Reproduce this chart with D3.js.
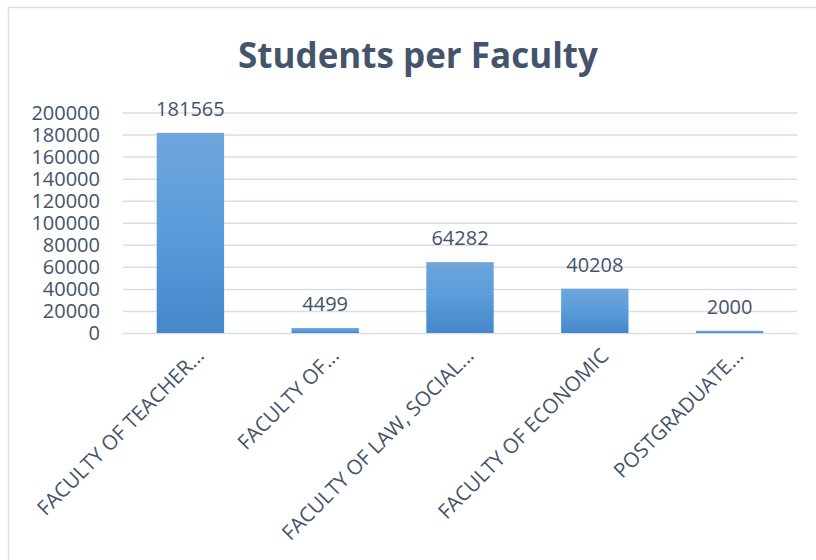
<!DOCTYPE html>
<html>
<head>
<meta charset="utf-8">
<script src="https://cdn.jsdelivr.net/npm/d3@7"></script>
<style>
  body { margin: 0; background: #fff; }
  text { font-family: "Open Sans", sans-serif; fill: #44546a; }
  .grid line { stroke: #dadee4; stroke-width: 1.5; }
  .grid path { display: none; }
</style>
</head>
<body>
<svg width="816" height="560"></svg>
<script>
var svg = d3.select("svg");

// Data
var faculties = ["FACULTY OF TEACHER...", "FACULTY OF...", "FACULTY OF LAW, SOCIAL...", "FACULTY OF ECONOMIC", "POSTGRADUATE..."];
var students = [181565, 4499, 64282, 40208, 2000];
var yTicks = [0, 20000, 40000, 60000, 80000, 100000, 120000, 140000, 160000, 180000, 200000];

// chart frame
svg.append("rect")
    .attr("x", 8.5).attr("y", 7.5)
    .attr("width", 900).attr("height", 700)
    .attr("fill", "none")
    .attr("stroke", "#d9dee5")
    .attr("stroke-width", 1.5);

// gradient for bars
var grad = svg.append("defs").append("linearGradient")
    .attr("id", "barFill")
    .attr("x1", 0).attr("y1", 0).attr("x2", 0).attr("y2", 1);
grad.append("stop").attr("offset", "0%").attr("stop-color", "#6fa6dc");
grad.append("stop").attr("offset", "50%").attr("stop-color", "#5a9bdb");
grad.append("stop").attr("offset", "100%").attr("stop-color", "#4687ca");

// scales
var x = d3.scaleBand()
    .domain(faculties)
    .range([123, 797])
    .paddingInner(0.5)
    .paddingOuter(0.25);

var y = d3.scaleLinear()
    .domain([0, 200000])
    .range([333, 112.5]);

// gridlines
svg.append("g")
    .attr("class", "grid")
    .attr("transform", "translate(123,0)")
    .call(d3.axisLeft(y).tickValues(yTicks).tickSize(-674).tickFormat(""));

// y tick labels
svg.selectAll(".ytick")
    .data(yTicks)
    .enter()
    .append("text")
    .attr("class", "ytick")
    .attr("text-anchor", "end")
    .attr("x", 100)
    .attr("y", function(d) { return y(d); })
    .attr("dy", "0.36em")
    .style("font-size", "20px")
    .text(function(d) { return d; });

// bars
svg.selectAll(".bar")
    .data(students)
    .enter()
    .append("rect")
    .attr("class", "bar")
    .attr("x", function(d, i) { return x(faculties[i]); })
    .attr("y", function(d) { return y(d); })
    .attr("width", x.bandwidth())
    .attr("height", function(d) { return y(0) - y(d); })
    .attr("fill", "url(#barFill)");

// value labels
svg.selectAll(".val")
    .data(students)
    .enter()
    .append("text")
    .attr("class", "val")
    .attr("text-anchor", "middle")
    .attr("x", function(d, i) { return x(faculties[i]) + x.bandwidth() / 2; })
    .attr("y", function(d) { return y(d) - 17; })
    .style("font-size", "20px")
    .text(function(d) { return d; });

// category labels, rotated
svg.selectAll(".cat")
    .data(faculties)
    .enter()
    .append("text")
    .attr("class", "cat")
    .attr("text-anchor", "end")
    .attr("transform", function(d) {
        var cx = x(d) + x.bandwidth() / 2;
        return "translate(" + (cx + 15) + "," + 357 + ") rotate(-45)";
    })
    .style("font-size", "20.5px")
    .text(function(d) { return d; });

// title
svg.append("text")
    .attr("text-anchor", "middle")
    .attr("x", 418)
    .attr("y", 68)
    .style("font-size", "35px")
    .style("font-weight", "bold")
    .text("Students per Faculty");
</script>
</body>
</html>
